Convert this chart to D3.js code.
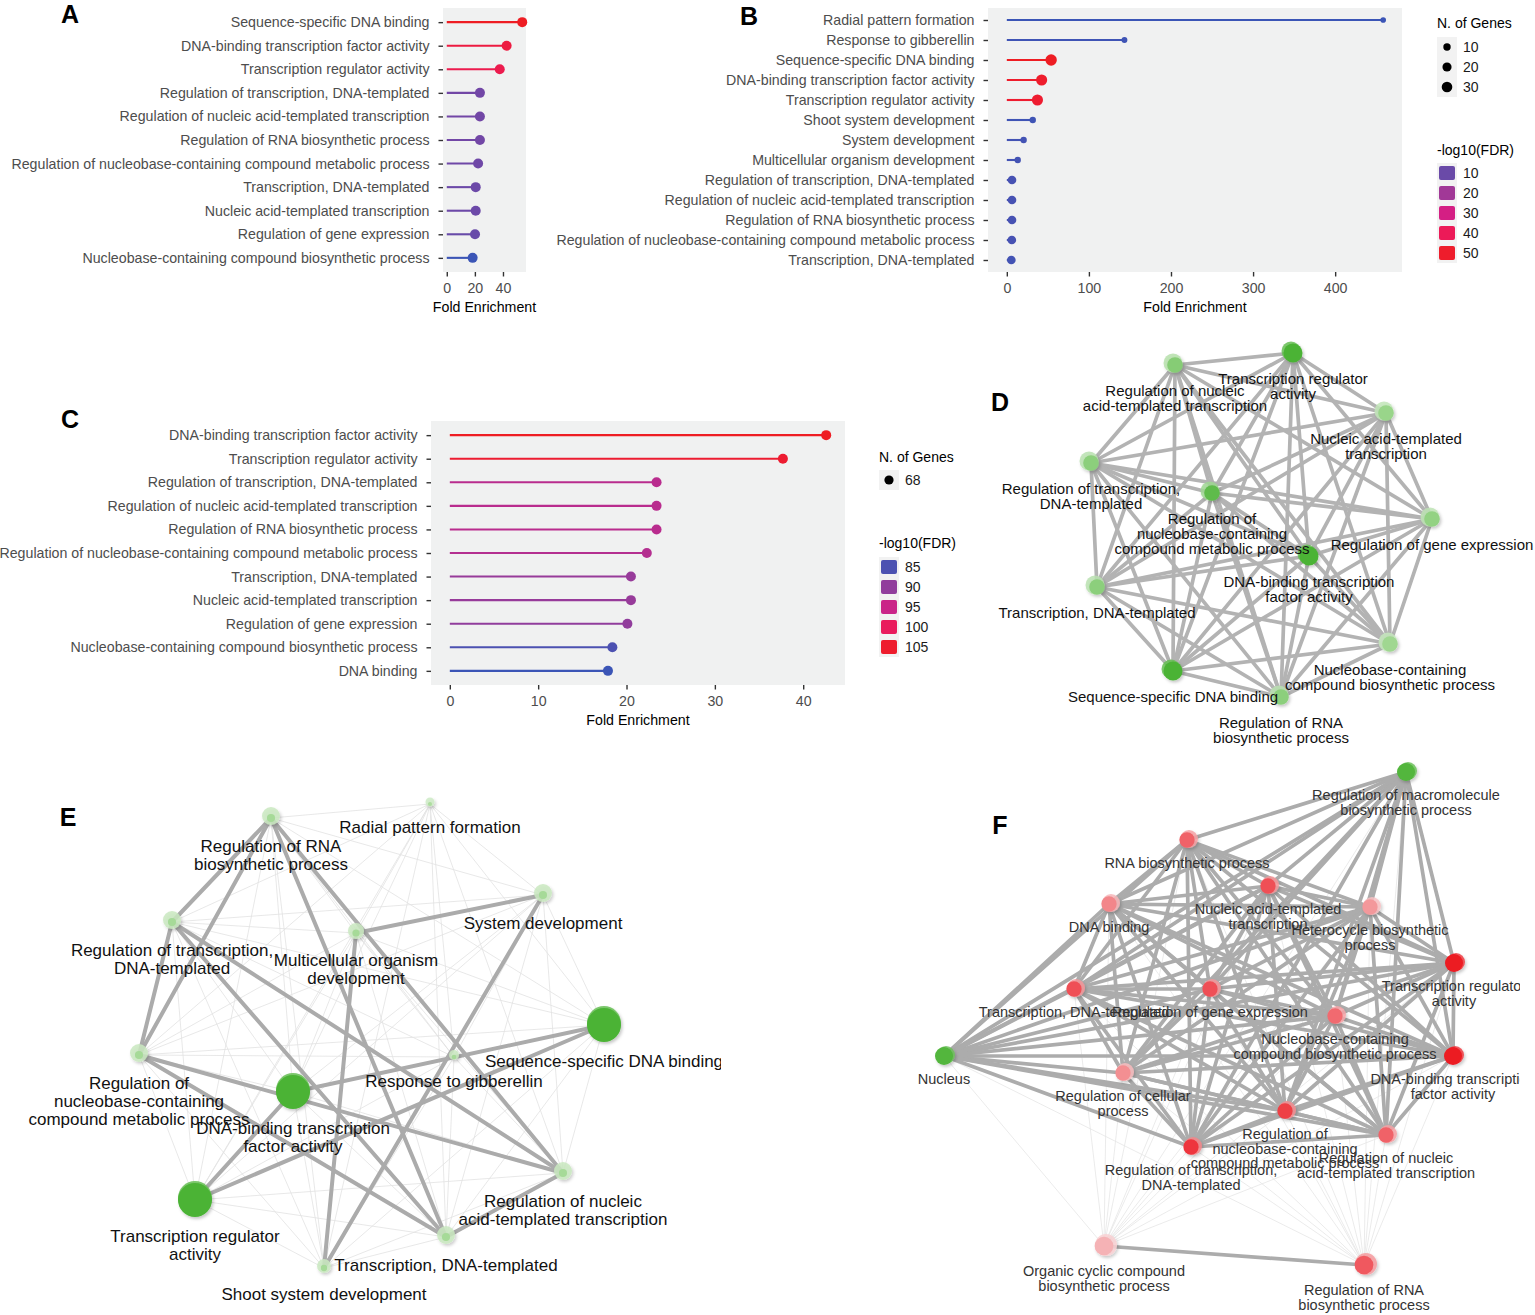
<!DOCTYPE html>
<html><head><meta charset="utf-8">
<script src="https://cdn.jsdelivr.net/npm/d3@7"></script>
<style>
body{margin:0;background:#fff}
svg{display:block}
</style>
</head><body>
<svg id="chart" width="1535" height="1315"></svg>
<script>
// ---------------- DATA ----------------
// Panel A
const aTerms = ["Sequence-specific DNA binding","DNA-binding transcription factor activity","Transcription regulator activity","Regulation of transcription, DNA-templated","Regulation of nucleic acid-templated transcription","Regulation of RNA biosynthetic process","Regulation of nucleobase-containing compound metabolic process","Transcription, DNA-templated","Nucleic acid-templated transcription","Regulation of gene expression","Nucleobase-containing compound biosynthetic process"];
const aFold = [53.7, 42.6, 37.7, 23.6, 23.6, 23.6, 22.3, 20.6, 20.6, 20.1, 18.4];
const aFDR  = [50, 44, 41.5, 14.5, 14.5, 14.5, 14, 13.5, 13.5, 13, 8];
const aTicks = [0, 20, 40];

// Panel B
const bTerms = ["Radial pattern formation","Response to gibberellin","Sequence-specific DNA binding","DNA-binding transcription factor activity","Transcription regulator activity","Shoot system development","System development","Multicellular organism development","Regulation of transcription, DNA-templated","Regulation of nucleic acid-templated transcription","Regulation of RNA biosynthetic process","Regulation of nucleobase-containing compound metabolic process","Transcription, DNA-templated"];
const bFold = [458.5, 143.3, 54, 42.4, 37.3, 31.6, 20.5, 13.3, 6.3, 6.3, 6.3, 6.1, 5.5];
const bFDR  = [4, 4.5, 52, 50, 49, 4.5, 5, 5, 5.5, 5.5, 5.5, 5.5, 5];
const bGenes = [2, 3, 36, 34, 34, 5, 5, 5, 17, 17, 17, 17, 17];
const bTicks = [0, 100, 200, 300, 400];
const bSizeBreaks = [10, 20, 30];
const bColorBreaks = [10, 20, 30, 40, 50];

// Panel C
const cTerms = ["DNA-binding transcription factor activity","Transcription regulator activity","Regulation of transcription, DNA-templated","Regulation of nucleic acid-templated transcription","Regulation of RNA biosynthetic process","Regulation of nucleobase-containing compound metabolic process","Transcription, DNA-templated","Nucleic acid-templated transcription","Regulation of gene expression","Nucleobase-containing compound biosynthetic process","DNA binding"];
const cFold = [42.6, 37.7, 23.4, 23.4, 23.4, 22.3, 20.5, 20.5, 20.1, 18.4, 17.9];
const cFDR  = [106, 104.5, 93.5, 93.5, 93.5, 93, 90.5, 90.5, 90, 85, 84];
const cTicks = [0, 10, 20, 30, 40];
const cSizeBreaks = [68];
const cColorBreaks = [85, 90, 95, 100, 105];

// Panel D network (layout coordinates, significance shade, node size)
const dNames = ["Transcription regulator\nactivity","Regulation of nucleic\nacid-templated transcription","Nucleic acid-templated\ntranscription","Regulation of transcription,\nDNA-templated","Regulation of\nnucleobase-containing\ncompound metabolic process","Regulation of gene expression","DNA-binding transcription\nfactor activity","Transcription, DNA-templated","Nucleobase-containing\ncompound biosynthetic process","Sequence-specific DNA binding","Regulation of RNA\nbiosynthetic process"];
const dLX = [313, 195, 406, 111, 232, 452, 329, 117, 410, 193, 301];
const dLY = [13, 25, 73, 123, 153, 179, 216, 247, 304, 331, 357];
const dShade = [1, 0.55, 0.4, 0.5, 0.85, 0.45, 1, 0.5, 0.35, 1, 0.5];
const dSize = [9.5, 9.5, 9.5, 9.5, 9.5, 9.5, 9.5, 9.5, 9.5, 9.5, 9.5];

// Panel E network
const eNames = ["Radial pattern formation","Regulation of RNA\nbiosynthetic process","System development","Regulation of transcription,\nDNA-templated","Multicellular organism\ndevelopment","Sequence-specific DNA binding","Response to gibberellin","Regulation of\nnucleobase-containing\ncompound metabolic process","DNA-binding transcription\nfactor activity","Transcription regulator\nactivity","Regulation of nucleic\nacid-templated transcription","Transcription, DNA-templated","Shoot system development"];
const eLX = [430, 271, 543, 172, 356, 604, 454, 139, 293, 195, 563, 446, 324];
const eLY = [14, 28, 105, 132, 143, 235, 267, 265, 302, 410, 383, 447, 478];
const eShade = [0.25, 0.3, 0.3, 0.3, 0.3, 1, 0.3, 0.3, 1, 1, 0.3, 0.3, 0.3];
const eSize = [4.5, 9, 9, 9, 8, 17, 5, 9, 17, 17, 9, 9, 7];
const eStrong = [[1,3],[1,7],[1,11],[1,10],[3,7],[3,10],[3,11],[7,10],[7,11],[10,11],[5,8],[5,9],[8,9],[4,2],[4,12],[2,12]];

// Panel F network
const fNames = ["Regulation of macromolecule\nbiosynthetic process","RNA biosynthetic process","Nucleic acid-templated\ntranscription","DNA binding","Heterocycle biosynthetic\nprocess","Transcription regulator\nactivity","Transcription, DNA-templated","Regulation of gene expression","Nucleobase-containing\ncompound biosynthetic process","Nucleus","DNA-binding transcription\nfactor activity","Regulation of cellular\nprocess","Regulation of\nnucleobase-containing\ncompound metabolic process","Regulation of nucleic\nacid-templated transcription","Regulation of transcription,\nDNA-templated","Organic cyclic compound\nbiosynthetic process","Regulation of RNA\nbiosynthetic process"];
const fLX = [506, 287, 368, 209, 470, 554, 174, 310, 435, 44, 553, 223, 385, 486, 291, 204, 464];
const fLY = [12, 80, 126, 144, 147, 203, 229, 229, 256, 296, 296, 313, 351, 375, 387, 486, 505];
const fShade = [0.95, 0.6, 0.7, 0.4, 0.3, 1, 0.7, 0.7, 0.55, 0.95, 1, 0.35, 0.8, 0.6, 0.85, 0.15, 0.65];
const fType = ["g","r","r","r","r","r","r","r","r","g","r","r","r","r","r","r","r"];
const fSize = [9, 9, 9, 9, 9, 9, 9, 9, 9, 9, 9, 9, 9, 9, 9, 11, 11];
const fCore = [0,1,2,3,4,5,6,7,8,9,10,11,12,13,14]; // fully connected core
const fOuter = [15, 16];
const fStrong = [[15,16]];

// ---------------- DRAWING ----------------
const FONT = '"Liberation Sans", Arial, Helvetica, sans-serif';
const svg = d3.select("#chart").attr("font-family", FONT);
const defs = svg.append("defs");
const sh = defs.append("filter").attr("id","shadow").attr("x","-60%").attr("y","-60%").attr("width","220%").attr("height","220%");
sh.append("feDropShadow").attr("dx",1.5).attr("dy",2).attr("stdDeviation",1.5).attr("flood-color","#000").attr("flood-opacity",0.22);

const colorStops = [0, 0.125, 0.333, 0.542, 0.75, 1];
const colorRamp = ["#3b55b6", "#6a4aa8", "#a13897", "#d41f84", "#ec1a58", "#ee1d23"];
function makeColor(values){
  const t = d3.scaleLinear().domain(d3.extent(values)).range([0,1]).clamp(true);
  const ramp = d3.scaleLinear().domain(colorStops).range(colorRamp).interpolate(d3.interpolateRgb);
  return v => ramp(t(v));
}

function panelLetter(l, x, y){
  svg.append("text").attr("x", x).attr("y", y).attr("text-anchor","middle")
    .attr("font-size", 25).attr("font-weight","bold").attr("fill","#000").text(l);
}

const AX_FS = 14.2;
function lollipop(o){
  const g = svg.append("g");
  const maxV = d3.max(o.fold);
  const x = d3.scaleLinear().domain([-0.05*maxV, 1.05*maxV]).range([o.x0, o.x1]);
  const y = d3.scalePoint().domain(o.terms).range([o.y0, o.y1]).padding(0.6);
  const col = makeColor(o.fdr);
  g.append("rect").attr("x", o.x0).attr("y", o.y0).attr("width", o.x1-o.x0).attr("height", o.y1-o.y0).attr("fill", "#f0f1f1");

  const ya = g.append("g").attr("transform", `translate(${o.x0},0)`)
    .call(d3.axisLeft(y).tickSize(4.5).tickPadding(9));
  ya.select(".domain").remove();
  ya.selectAll("line").attr("stroke","#333").attr("stroke-width",1.4);
  ya.selectAll("text").attr("fill","#4d4d4d").attr("font-size",AX_FS).attr("font-family",FONT);

  const xa = g.append("g").attr("transform", `translate(0,${o.y1})`)
    .call(d3.axisBottom(x).tickValues(o.ticks).tickSize(4.5).tickPadding(6));
  xa.select(".domain").remove();
  xa.selectAll("line").attr("stroke","#333").attr("stroke-width",1.4);
  xa.selectAll("text").attr("fill","#4d4d4d").attr("font-size",AX_FS).attr("font-family",FONT);
  ya.attr("font-size",AX_FS).attr("font-family",FONT);
  xa.attr("font-size",AX_FS).attr("font-family",FONT);

  g.append("text").attr("x", (o.x0+o.x1)/2).attr("y", o.y1+40).attr("text-anchor","middle")
    .attr("font-size",14.2).attr("fill","#000").text("Fold Enrichment");

  const rows = o.terms.map((t,i)=>({t, v:o.fold[i], f:o.fdr[i], n:o.genes ? o.genes[i] : null}));
  g.selectAll(".seg").data(rows).join("line")
    .attr("x1", x(0)).attr("x2", d=>x(d.v)).attr("y1", d=>y(d.t)).attr("y2", d=>y(d.t))
    .attr("stroke", d=>col(d.f)).attr("stroke-width", 2.1);
  g.selectAll(".dot").data(rows).join("circle")
    .attr("cx", d=>x(d.v)).attr("cy", d=>y(d.t))
    .attr("r", d=> o.rScale ? o.rScale(d.n) : o.r)
    .attr("fill", d=>col(d.f));
  return col;
}

function legend(o){
  const g = svg.append("g");
  const ks = 20;
  g.append("text").attr("x", o.x).attr("y", o.sizeTitleY).attr("font-size",14).attr("fill","#000").text("N. of Genes");
  g.append("rect").attr("x", o.x).attr("y", o.sizeKeyY - ks/2).attr("width", 20).attr("height", ks*o.sizeBreaks.length).attr("fill","#f2f2f2");
  g.selectAll(".sk").data(o.sizeBreaks).join("circle")
    .attr("cx", o.x+10).attr("cy", (d,i)=>o.sizeKeyY + i*ks).attr("r", d=>o.r(d)).attr("fill","#000");
  g.selectAll(".sl").data(o.sizeBreaks).join("text")
    .attr("x", o.x+26).attr("y", (d,i)=>o.sizeKeyY + i*ks + 5).attr("font-size",14).attr("fill","#1a1a1a").text(d=>d);

  g.append("text").attr("x", o.x).attr("y", o.colorTitleY).attr("font-size",14).attr("fill","#000").text("-log10(FDR)");
  g.append("rect").attr("x", o.x).attr("y", o.colorKeyY - ks/2).attr("width", 20).attr("height", ks*o.colorBreaks.length).attr("fill","#f2f2f2");
  g.selectAll(".ck").data(o.colorBreaks).join("rect")
    .attr("x", o.x+2).attr("y", (d,i)=>o.colorKeyY + i*ks - 7).attr("width",16).attr("height",14).attr("rx",2)
    .attr("fill", d=>o.col(d));
  g.selectAll(".cl").data(o.colorBreaks).join("text")
    .attr("x", o.x+26).attr("y", (d,i)=>o.colorKeyY + i*ks + 5).attr("font-size",14).attr("fill","#1a1a1a").text(d=>d);
}

const greenScale = d3.interpolateRgb("#cdebc2", "#4bb336");
const redScale = d3.interpolateRgb("#f6cdcf", "#ec1b22");

function network(o){
  const g = svg.append("g");
  if (o.clipX){
    const id = "clip" + o.key;
    defs.append("clipPath").attr("id", id).append("rect").attr("x",0).attr("y",0).attr("width",o.clipX).attr("height",1315);
    g.attr("clip-path", `url(#${id})`);
  }
  const x = d3.scaleLinear().domain([0, 600]).range([o.ox, o.ox+600]);
  const y = d3.scaleLinear().domain([0, 600]).range([o.oy, o.oy+600]);
  const r = d3.scaleLinear().domain([0, 20]).range([0, 20]);
  const nodes = o.names.map((n,i)=>({name:n, x:x(o.lx[i]), y:y(o.ly[i]), r:r(o.size[i]), shade:o.shade[i], type:o.type ? o.type[i] : "g"}));

  g.selectAll(".thin").data(o.thin).join("line")
    .attr("x1", d=>nodes[d[0]].x).attr("y1", d=>nodes[d[0]].y)
    .attr("x2", d=>nodes[d[1]].x).attr("y2", d=>nodes[d[1]].y)
    .attr("stroke", o.thinColor).attr("stroke-width", o.thinW);
  g.selectAll(".thick").data(o.thick).join("line")
    .attr("x1", d=>nodes[d[0]].x).attr("y1", d=>nodes[d[0]].y)
    .attr("x2", d=>nodes[d[1]].x).attr("y2", d=>nodes[d[1]].y)
    .attr("stroke", o.thickColor).attr("stroke-width", o.thickW).attr("stroke-linecap","round");

  const baseCol = n => n.type === "r" ? redScale(n.shade) : greenScale(n.shade);
  const ng = g.append("g").attr("filter","url(#shadow)");
  ng.selectAll(".halo").data(nodes).join("circle")
    .attr("cx", d=>d.x + o.haloDx).attr("cy", d=>d.y + o.haloDy).attr("r", d=>d.r)
    .attr("fill", d=>d3.interpolateRgb(baseCol(d), "#ffffff")(d.shade >= 0.9 ? 0.15 : 0.4))
    .attr("fill-opacity", 0.85);
  ng.selectAll(".core").data(nodes).join("circle")
    .attr("cx", d=>d.x).attr("cy", d=>d.y).attr("r", d=> d.shade >= 0.9 ? d.r : d.r*o.coreFrac)
    .attr("fill", baseCol);

  const lab = g.selectAll(".lab").data(nodes).join("text")
    .attr("text-anchor","middle").attr("font-size", o.fs).attr("fill", o.textColor);
  lab.each(function(d){
    const t = d3.select(this);
    d.name.split("\n").forEach((l,k)=>{
      t.append("tspan").attr("x", d.x).attr("y", d.y + d.r + o.labOff + k*o.lineH + o.fs*0.35).text(l);
    });
  });
}

function allPairs(idx){
  const out = [];
  for (let i=0;i<idx.length;i++) for (let j=i+1;j<idx.length;j++) out.push([idx[i], idx[j]]);
  return out;
}

// ---- Panels A, B, C ----
panelLetter("A", 70, 23);
lollipop({terms:aTerms, fold:aFold, fdr:aFDR, ticks:aTicks, x0:443, x1:526, y0:8, y1:272, r:5});

panelLetter("B", 749, 25);
const bR = d3.scaleRadial().domain([0, 36]).range([2.55, 5.7]);
const bCol = lollipop({terms:bTerms, fold:bFold, fdr:bFDR, genes:bGenes, ticks:bTicks, x0:988, x1:1402, y0:8, y1:272, rScale:bR});
legend({x:1437, sizeTitleY:28, sizeKeyY:47, sizeBreaks:bSizeBreaks, r:bR, colorTitleY:155, colorKeyY:173, colorBreaks:bColorBreaks, col:bCol});

panelLetter("C", 70, 428);
const cCol = lollipop({terms:cTerms, fold:cFold, fdr:cFDR, ticks:cTicks, x0:431, x1:845, y0:421, y1:685, r:5});
legend({x:879, sizeTitleY:462, sizeKeyY:480, sizeBreaks:cSizeBreaks, r:()=>4.6, colorTitleY:548, colorKeyY:567, colorBreaks:cColorBreaks, col:cCol});

// ---- Panel D ----
const dIdx = dNames.map((d,i)=>i);
network({key:"D", names:dNames, lx:dLX, ly:dLY, shade:dShade, size:dSize, ox:980, oy:340,
  thin:[], thick:allPairs(dIdx), thickColor:"#b3b3b3", thickW:3.7, thinColor:"#ddd", thinW:0.8,
  coreFrac:0.82, haloDx:-2, haloDy:-2, fs:15, labOff:16, lineH:15.3, textColor:"#111"});
panelLetter("D", 1000, 411);

// ---- Panel E ----
const eIdx = eNames.map((d,i)=>i);
network({key:"E", names:eNames, lx:eLX, ly:eLY, shade:eShade, size:eSize, ox:0, oy:790,
  thin:allPairs(eIdx), thick:eStrong, thickColor:"#ababab", thickW:4, thinColor:"#e2e2e2", thinW:0.8,
  coreFrac:0.45, haloDx:0, haloDy:-2, fs:17, labOff:19, lineH:18, textColor:"#111", clipX:721});
panelLetter("E", 68, 826);

// ---- Panel F ----
const fThin = [];
fOuter.forEach(o => fCore.forEach(c => fThin.push([o, c])));
network({key:"F", names:fNames, lx:fLX, ly:fLY, shade:fShade, size:fSize, type:fType, ox:900, oy:760,
  thin:fThin, thick:allPairs(fCore).concat(fStrong), thickColor:"#acacac", thickW:3.7, thinColor:"#e6e6e6", thinW:0.8,
  coreFrac:0.85, haloDx:2, haloDy:-1, fs:14.5, labOff:14, lineH:14.5, textColor:"#333", clipX:1520});
panelLetter("F", 1000, 834);
</script>
</body></html>
